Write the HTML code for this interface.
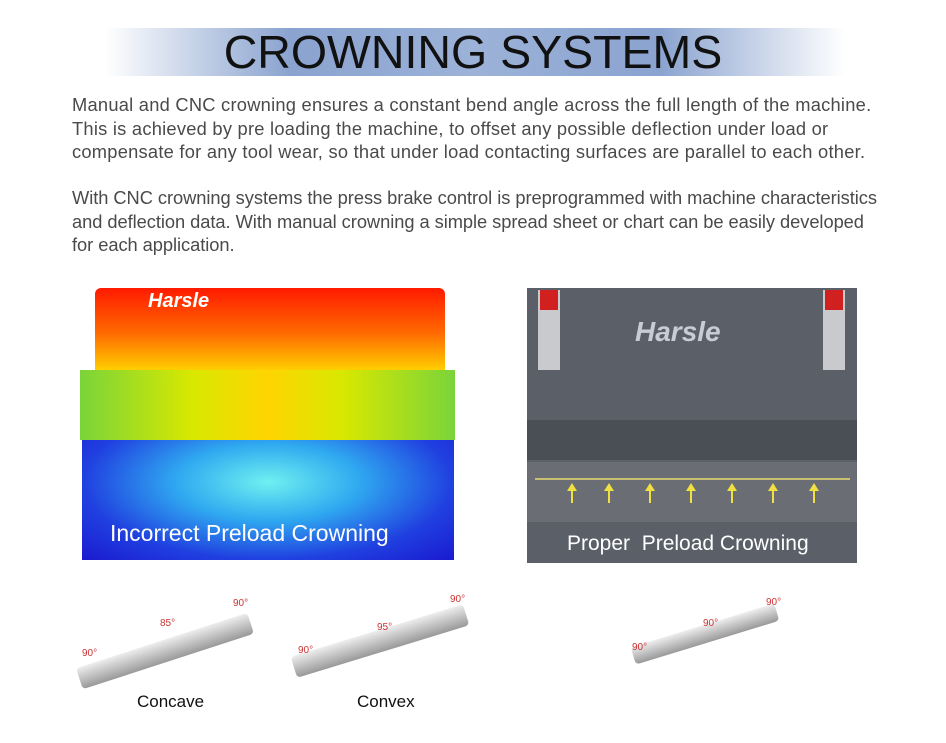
<!DOCTYPE html>
<html><head><meta charset="utf-8"><style>
body{margin:0;width:946px;height:743px;background:#fff;position:relative;overflow:hidden;font-family:"Liberation Sans",sans-serif}
.ab{position:absolute}
.p{position:absolute;left:72px;font-size:18.3px;letter-spacing:0.1px;color:#4a4a4a;line-height:23.5px;white-space:nowrap}
.ar{position:absolute;width:0;height:0;border-left:5px solid transparent;border-right:5px solid transparent;border-bottom:8px solid #f0e040}
.as{position:absolute;width:2px;height:12px;background:#f0e040}
</style></head><body>
<div class="ab" style="left:105px;top:28px;width:740px;height:48px;background:linear-gradient(90deg,rgba(120,150,200,0),#8aa3cf 25%,#9cb2d8 50%,#8aa3cf 75%,rgba(120,150,200,0))"></div>
<div class="ab" style="left:0;width:946px;top:25px;text-align:center;font-size:46.5px;color:#111">CROWNING SYSTEMS</div>
<div class="p" style="top:93px;letter-spacing:0.25px">Manual and CNC crowning ensures a constant bend angle across the full length of the machine.<br>This is achieved by pre loading the machine, to offset any possible deflection under load or<br>compensate for any tool wear, so that under load contacting surfaces are parallel to each other.</div>
<div class="p" style="top:186px;letter-spacing:-0.05px">With CNC crowning systems the press brake control is preprogrammed with machine characteristics<br>and deflection data. With manual crowning a simple spread sheet or chart can be easily developed<br>for each application.</div>

<!-- left machine -->
<div class="ab" style="left:95px;top:288px;width:350px;height:150px;background:linear-gradient(180deg,#ff1a00 0%,#ff6a00 30%,#ffd000 55%,#9be000 80%,#3dc94a 100%);border-radius:6px 6px 0 0"></div>
<div class="ab" style="left:80px;top:370px;width:375px;height:70px;background:linear-gradient(90deg,#7ad43a,#d8e800 30%,#ffd400 50%,#d8e800 70%,#7ad43a)"></div>
<div class="ab" style="left:82px;top:440px;width:372px;height:120px;background:radial-gradient(ellipse at 50% 35%,#6ff0f0 0%,#2fa8f0 35%,#2040e0 70%,#1a1ad0 100%)"></div>
<div class="ab" style="left:148px;top:290px;color:#fff;font-weight:bold;font-style:italic;font-size:20px">Harsle</div>
<div class="ab" style="left:110px;top:520px;color:#fff;font-size:23px">Incorrect Preload Crowning</div>

<!-- right machine -->
<div class="ab" style="left:527px;top:288px;width:330px;height:275px;background:#5b6068"></div>
<div class="ab" style="left:527px;top:420px;width:330px;height:40px;background:#4a4e55"></div>
<div class="ab" style="left:527px;top:462px;width:330px;height:60px;background:#6a6e74"></div>
<div class="ab" style="left:535px;top:478px;width:315px;height:2px;background:#c8c070"></div>
<div class="ab" style="left:538px;top:290px;width:22px;height:80px;background:#c8cace"></div>
<div class="ab" style="left:823px;top:290px;width:22px;height:80px;background:#c8cace"></div>
<div class="ab" style="left:540px;top:290px;width:18px;height:20px;background:#d02020"></div>
<div class="ab" style="left:825px;top:290px;width:18px;height:20px;background:#d02020"></div>
<div class="ar" style="left:567px;top:483px"></div><div class="as" style="left:571px;top:491px"></div>
<div class="ar" style="left:604px;top:483px"></div><div class="as" style="left:608px;top:491px"></div>
<div class="ar" style="left:645px;top:483px"></div><div class="as" style="left:649px;top:491px"></div>
<div class="ar" style="left:686px;top:483px"></div><div class="as" style="left:690px;top:491px"></div>
<div class="ar" style="left:727px;top:483px"></div><div class="as" style="left:731px;top:491px"></div>
<div class="ar" style="left:768px;top:483px"></div><div class="as" style="left:772px;top:491px"></div>
<div class="ar" style="left:809px;top:483px"></div><div class="as" style="left:813px;top:491px"></div>
<div class="ab" style="left:635px;top:316px;color:#c8ccd4;font-weight:bold;font-style:italic;font-size:28px">Harsle</div>
<div class="ab" style="left:567px;top:532px;color:#fff;font-size:21px">Proper &nbsp;Preload Crowning</div>

<!-- bottom pieces -->
<div class="ab" style="left:75px;top:640px;width:180px;height:22px;background:linear-gradient(180deg,#eee,#999);transform:rotate(-18deg);border-radius:4px"></div>
<div class="ab" style="left:290px;top:630px;width:180px;height:22px;background:linear-gradient(180deg,#eee,#999);transform:rotate(-17deg);border-radius:4px"></div>
<div class="ab" style="left:630px;top:625px;width:150px;height:18px;background:linear-gradient(180deg,#eee,#999);transform:rotate(-17deg);border-radius:4px"></div>
<div class="ab" style="left:137px;top:692px;font-size:17px;color:#111">Concave</div>
<div class="ab" style="left:357px;top:692px;font-size:17px;color:#111">Convex</div>
<div class="ab" style="left:82px;top:648px;font-size:10px;color:#c33">90°</div>
<div class="ab" style="left:160px;top:618px;font-size:10px;color:#c33">85°</div>
<div class="ab" style="left:233px;top:598px;font-size:10px;color:#c33">90°</div>
<div class="ab" style="left:298px;top:645px;font-size:10px;color:#c33">90°</div>
<div class="ab" style="left:377px;top:622px;font-size:10px;color:#c33">95°</div>
<div class="ab" style="left:450px;top:594px;font-size:10px;color:#c33">90°</div>
<div class="ab" style="left:632px;top:642px;font-size:10px;color:#c33">90°</div>
<div class="ab" style="left:703px;top:618px;font-size:10px;color:#c33">90°</div>
<div class="ab" style="left:766px;top:597px;font-size:10px;color:#c33">90°</div>
</body></html>
